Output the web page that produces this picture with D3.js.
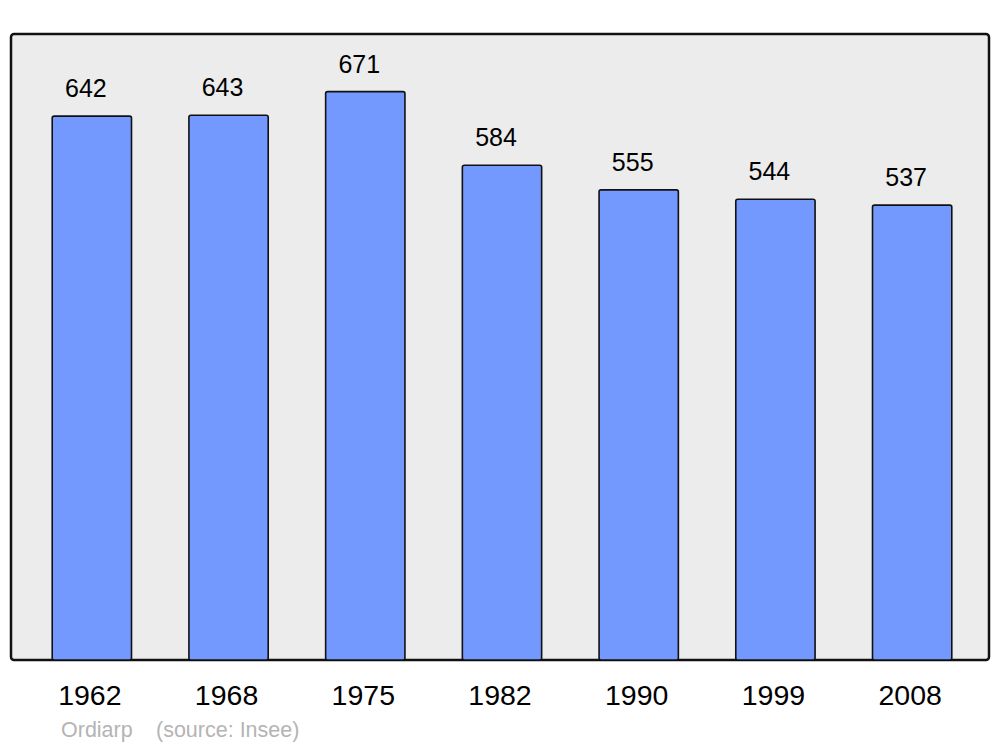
<!DOCTYPE html>
<html><head><meta charset="utf-8">
<script src="https://cdn.jsdelivr.net/npm/d3@7"></script>
<style>body{margin:0;background:#fff;} text{font-family:"Liberation Sans",Arial,sans-serif;}</style>
</head><body>
<script>
const years = ["1962","1968","1975","1982","1990","1999","2008"];
const population = [642,643,671,584,555,544,537];
const sourceLabel = "Ordiarp";
const sourceNote = "(source: Insee)";

const W = 1000, H = 747;
const frame = {x0: 11, x1: 989, y0: 34, y1: 660};
const svg = d3.select("body").append("svg").attr("width", W).attr("height", H);

svg.append("rect")
  .attr("x", frame.x0).attr("y", frame.y0)
  .attr("width", frame.x1 - frame.x0).attr("height", frame.y1 - frame.y0)
  .attr("rx", 3).attr("fill", "#ececec").attr("stroke", "#111").attr("stroke-width", 2.5);

const x = d3.scaleBand().domain(years).range([23.5, 980.5]).padding(0);
const y = d3.scaleLinear().domain([0, 739]).range([frame.y1, frame.y0]);
const bw = x.bandwidth() * 0.58;

svg.selectAll("rect.bar").data(years).enter().append("rect")
  .attr("class", "bar")
  .attr("x", (d) => x(d) + (x.bandwidth() - bw) / 2)
  .attr("y", (d, i) => y(population[i]))
  .attr("width", bw)
  .attr("height", (d, i) => y(0) - y(population[i]))
  .attr("rx", 2)
  .attr("fill", "#7399ff").attr("stroke", "#111").attr("stroke-width", 1.6);

svg.selectAll("text.val").data(years).enter().append("text")
  .attr("class", "val")
  .attr("x", (d) => x(d) + x.bandwidth() / 2 - 6)
  .attr("y", (d, i) => y(population[i]) - 19)
  .attr("text-anchor", "middle").attr("font-size", 25).attr("fill", "#000")
  .text((d, i) => population[i]);

svg.selectAll("text.year").data(years).enter().append("text")
  .attr("class", "year")
  .attr("x", (d) => x(d) + x.bandwidth() / 2 - 2)
  .attr("y", 705)
  .attr("text-anchor", "middle").attr("font-size", 28.5).attr("fill", "#000")
  .text((d) => d);

svg.append("text").attr("x", 61).attr("y", 737).attr("font-size", 21.5).attr("fill", "#b4b4b4").text(sourceLabel);
svg.append("text").attr("x", 156).attr("y", 737).attr("font-size", 21.5).attr("fill", "#b4b4b4").text(sourceNote);
</script>
</body></html>
